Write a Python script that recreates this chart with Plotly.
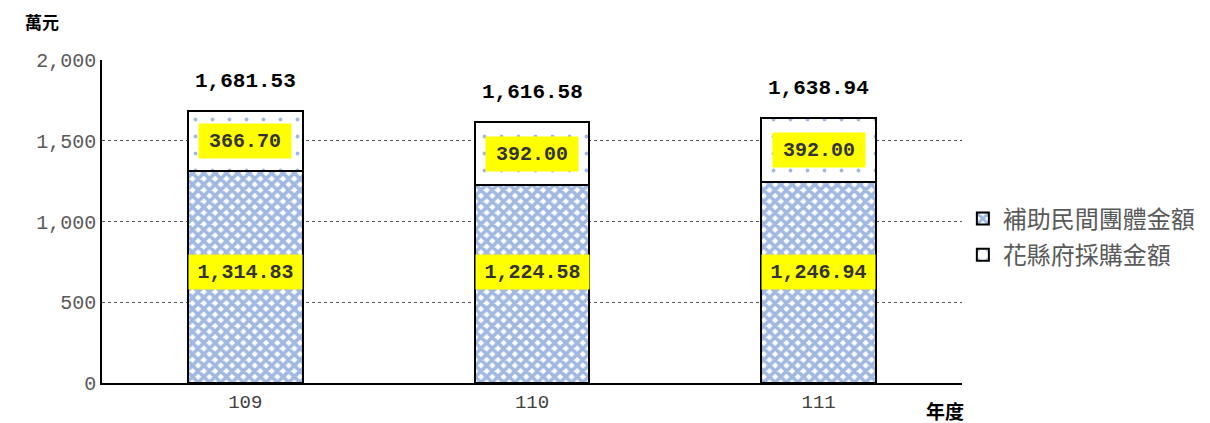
import plotly.graph_objects as go

years = ["109", "110", "111"]
subsidy = [1314.83, 1224.58, 1246.94]       # 補助民間團體金額
procure = [366.70, 392.00, 392.00]          # 花縣府採購金額
totals = [1681.53, 1616.58, 1638.94]
y_ticks = [0, 500, 1000, 1500, 2000]
y_tick_text = ["0", "500", "1,000", "1,500", "2,000"]

NUM_FONT = "Liberation Mono, Noto Sans CJK TC"
CJK_FONT = "Noto Sans CJK TC"

fig = go.Figure()
fig.add_trace(go.Bar(
    x=years, y=subsidy, name="補助民間團體金額", legendgroup="a",
    marker=dict(color="white", line=dict(color="black", width=2),
                pattern=dict(shape="x", fgcolor="#4472C4", bgcolor="white",
                             size=8, solidity=0.7, fillmode="overlay")),
    width=0.4,
))
fig.add_trace(go.Bar(
    x=years, y=procure, name="花縣府採購金額", legendgroup="b",
    marker=dict(color="white", line=dict(color="black", width=2),
                pattern=dict(shape=".", fgcolor="#4472C4", bgcolor="white",
                             size=17, solidity=0.04, fillmode="overlay")),
    width=0.4,
))

ann = []
for i, yr in enumerate(years):
    ann.append(dict(x=i, y=690, text=f"{subsidy[i]:,.2f}", showarrow=False,
                    bgcolor="yellow", width=111, height=32,
                    font=dict(family=NUM_FONT, size=20, color="#333333", weight=600)))
    ann.append(dict(x=i, y=subsidy[i] + procure[i] / 2, text=f"{procure[i]:,.2f}",
                    showarrow=False, bgcolor="yellow", width=90, height=32,
                    font=dict(family=NUM_FONT, size=20, color="#333333", weight=600)))
    ann.append(dict(x=i, y=totals[i], text=f"{totals[i]:,.2f}", showarrow=False,
                    yanchor="bottom", yshift=16,
                    font=dict(family=NUM_FONT, size=21, color="black", weight=600)))

ann.append(dict(xref="paper", yref="paper", x=-0.07, y=1.12, text="<b>萬元</b>",
                showarrow=False, xanchor="center", yanchor="middle",
                font=dict(family=CJK_FONT, size=17, color="black")))
ann.append(dict(xref="paper", yref="paper", x=0.98, y=-0.085, text="<b>年度</b>",
                showarrow=False, xanchor="center", yanchor="middle",
                font=dict(family=CJK_FONT, size=19, color="black")))

fig.update_layout(
    barmode="stack",
    width=1210, height=423,
    margin=dict(l=94, r=256, t=52, b=48),
    paper_bgcolor="white", plot_bgcolor="white",
    showlegend=True,
    legend=dict(x=1.001, y=0.452, xanchor="left", yanchor="middle",
                font=dict(family=CJK_FONT, size=24, color="#595959"),
                traceorder="grouped", itemwidth=30, tracegroupgap=2),
    annotations=ann,
    bargap=0.6,
)
fig.update_yaxes(range=[0, 2000], tickvals=y_ticks, ticktext=y_tick_text,
                 showgrid=True, gridcolor="#555555", griddash="dot", gridwidth=1,
                 showline=True, linecolor="black", linewidth=1.5,
                 ticks="", ticklen=0,
                 tickfont=dict(family=NUM_FONT, size=20, color="#595959"),
                 zeroline=False)
fig.update_xaxes(type="category", range=[-0.5, 2.5], showline=True, linecolor="black",
                 linewidth=1.5, ticks="",
                 tickfont=dict(family=NUM_FONT, size=19, color="#404040"))

fig.write_html("out.html")
